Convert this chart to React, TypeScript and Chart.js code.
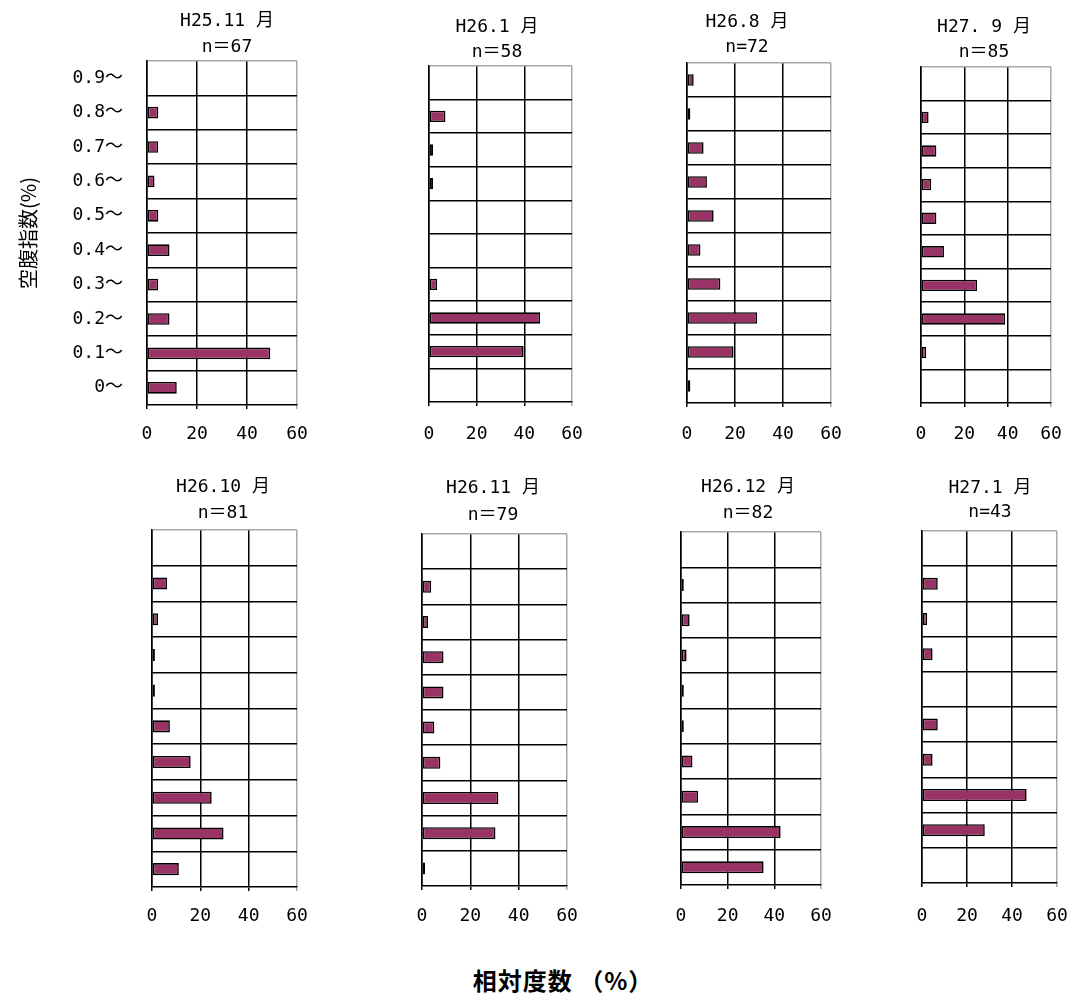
import React, { useEffect, useRef } from "react";
import { Chart, registerables } from "chart.js";

Chart.register(...registerables);

// ---------- data ----------
const categories = ["0.9～", "0.8～", "0.7～", "0.6～", "0.5～", "0.4～", "0.3～", "0.2～", "0.1～", "0～"];
const xTicks = [0, 20, 40, 60];

const titlesLine1 = ["H25.11 月", "H26.1 月", "H26.8 月", "H27. 9 月", "H26.10 月", "H26.11 月", "H26.12 月", "H27.1 月"];
const titlesLine2 = ["n＝67", "n＝58", "n=72", "n＝85", "n＝81", "n＝79", "n＝82", "n=43"];

const h25_11 = [0, 4.5, 4.5, 3.0, 4.5, 9.0, 4.5, 9.0, 49.3, 11.9];
const h26_01 = [0, 6.9, 1.7, 1.7, 0, 0, 3.4, 46.6, 39.7, 0];
const h26_08 = [2.8, 1.4, 6.9, 8.3, 11.1, 5.6, 13.9, 29.2, 19.4, 1.4];
const h27_09 = [0, 3.5, 7.1, 4.7, 7.1, 10.6, 25.9, 38.8, 2.4, 0];
const h26_10 = [0, 6.2, 2.5, 1.2, 1.2, 7.4, 16.0, 24.7, 29.6, 11.1];
const h26_11 = [0, 3.8, 2.5, 8.9, 8.9, 5.1, 7.6, 31.6, 30.4, 1.3];
const h26_12 = [0, 1.2, 3.7, 2.4, 1.2, 1.2, 4.9, 7.3, 42.7, 35.4];
const h27_01 = [0, 7.0, 2.3, 4.7, 0, 7.0, 4.7, 46.5, 27.9, 0];

const seriesList = [h25_11, h26_01, h26_08, h27_09, h26_10, h26_11, h26_12, h27_01];

const yAxisTitle = "空腹指数(%)";
const xAxisTitle = "相対度数 （%）";

// ---------- layout (page pixels) ----------
const panelBoxes = [
  { left: 147, top: 61, right: 297, bottom: 405, tx: 227, ty1: 21, ty2: 47, ly: 434 },
  { left: 429, top: 66, right: 572, bottom: 402, tx: 497, ty1: 27, ty2: 52, ly: 434 },
  { left: 687, top: 63, right: 831, bottom: 403, tx: 747, ty1: 22, ty2: 47, ly: 434 },
  { left: 921, top: 67, right: 1051, bottom: 403, tx: 984, ty1: 27, ty2: 52, ly: 434 },
  { left: 152, top: 530, right: 297, bottom: 887, tx: 223, ty1: 487, ty2: 513, ly: 916 },
  { left: 422, top: 534, right: 567, bottom: 886, tx: 493, ty1: 488, ty2: 515, ly: 916 },
  { left: 681, top: 532, right: 821, bottom: 885, tx: 748, ty1: 487, ty2: 513, ly: 916 },
  { left: 922, top: 531, right: 1057, bottom: 883, tx: 990, ty1: 488, ty2: 512, ly: 916 },
];

const TOP_SPACE = 60;
const BOTTOM_SPACE = 50;
const RIGHT_SPACE = 45;
const LEFT_SPACE = 45;

const MONO = "'DejaVu Sans Mono', 'Noto Sans CJK JP', monospace";
const CJK = "'Noto Sans CJK JP', sans-serif";
const GRAY = "#a8a8a8";

const panelTitlePlugin = {
  id: "panelTitle",
  afterDraw(chart: any, _args: any, opts: any) {
    const ctx = chart.ctx;
    ctx.save();
    ctx.font = `18px ${MONO}`;
    ctx.fillStyle = "#000";
    ctx.textAlign = "center";
    ctx.textBaseline = "middle";
    const lines = opts.lines || [];
    const ys = opts.ys || [];
    for (let i = 0; i < lines.length; i++) {
      ctx.fillText(lines[i], opts.x, ys[i]);
    }
    ctx.restore();
  },
};

function Panel({ idx }: { idx: number }) {
  const ref = useRef<HTMLCanvasElement | null>(null);
  const box = panelBoxes[idx];
  const isFirst = idx === 0;
  const L = isFirst ? box.left : LEFT_SPACE;
  const canvasLeft = box.left - L;
  const canvasTop = box.top - TOP_SPACE;
  const width = L + (box.right - box.left) + RIGHT_SPACE;
  const height = TOP_SPACE + (box.bottom - box.top) + BOTTOM_SPACE;
  const tickPad = 14 + (box.ly - box.bottom - 28);

  useEffect(() => {
    if (!ref.current) return;
    const chart = new Chart(ref.current, {
      type: "bar",
      data: {
        labels: categories,
        datasets: [
          {
            data: seriesList[idx],
            backgroundColor: "#993366",
            borderColor: "#000000",
            borderWidth: 1.6,
            borderSkipped: false,
            barPercentage: 0.34,
            categoryPercentage: 1,
          },
        ],
      },
      options: {
        indexAxis: "y",
        animation: false,
        responsive: false,
        devicePixelRatio: 1,
        layout: { padding: { top: TOP_SPACE, right: RIGHT_SPACE, left: 0, bottom: 0 } },
        plugins: {
          legend: { display: false },
          tooltip: { enabled: false },
          title: { display: false },
          panelTitle: {
            lines: [titlesLine1[idx], titlesLine2[idx]],
            x: box.tx - canvasLeft,
            ys: [box.ty1 - canvasTop, box.ty2 - canvasTop],
          },
        } as any,
        scales: {
          x: {
            type: "linear",
            min: xTicks[0],
            max: xTicks[xTicks.length - 1],
            afterBuildTicks: (scale: any) => {
              scale.ticks = xTicks.map((v) => ({ value: v }));
            },
            afterFit: (scale: any) => {
              scale.height = BOTTOM_SPACE;
            },
            ticks: {
              color: "#000",
              font: { family: MONO, size: 18 },
              padding: tickPad,
              maxRotation: 0,
            },
            grid: {
              color: (ctx: any) => (ctx.tick && ctx.tick.value === 60 ? GRAY : "#000"),
              lineWidth: 1.5,
              tickLength: 4,
              drawTicks: true,
            },
            border: { color: "#000", width: 1.5 },
          },
          y: {
            type: "category",
            afterFit: (scale: any) => {
              scale.width = L;
            },
            ticks: {
              display: isFirst,
              color: "#000",
              font: { family: MONO, size: 18 },
              padding: 24,
            },
            grid: {
              offset: true,
              color: (ctx: any) =>
                ctx.index === 0 ? GRAY : ctx.index === undefined ? "rgba(0,0,0,0)" : "#000",
              lineWidth: 1.5,
              drawTicks: false,
            },
            border: { color: "#000", width: 1.5 },
            title: {
              display: isFirst,
              text: yAxisTitle,
              color: "#000",
              font: { family: CJK, size: 20 },
              padding: { top: 16, bottom: 0 },
            },
          },
        },
      } as any,
      plugins: [panelTitlePlugin],
    });
    return () => chart.destroy();
  }, [idx]);

  return (
    <canvas
      ref={ref}
      width={width}
      height={height}
      style={{ position: "absolute", left: canvasLeft, top: canvasTop, width, height }}
    />
  );
}

export default function App() {
  return (
    <div style={{ position: "absolute", left: 0, top: 0, width: 1069, height: 996, background: "#fff", overflow: "hidden" }}>
      {panelBoxes.map((_, i) => (
        <Panel key={i} idx={i} />
      ))}
      <div
        style={{
          position: "absolute",
          left: 363,
          width: 400,
          top: 963,
          textAlign: "center",
          fontFamily: CJK,
          fontSize: 24,
          fontWeight: 700,
          letterSpacing: "1px",
          lineHeight: "34px",
          color: "#000",
        }}
      >
        {xAxisTitle}
      </div>
    </div>
  );
}
